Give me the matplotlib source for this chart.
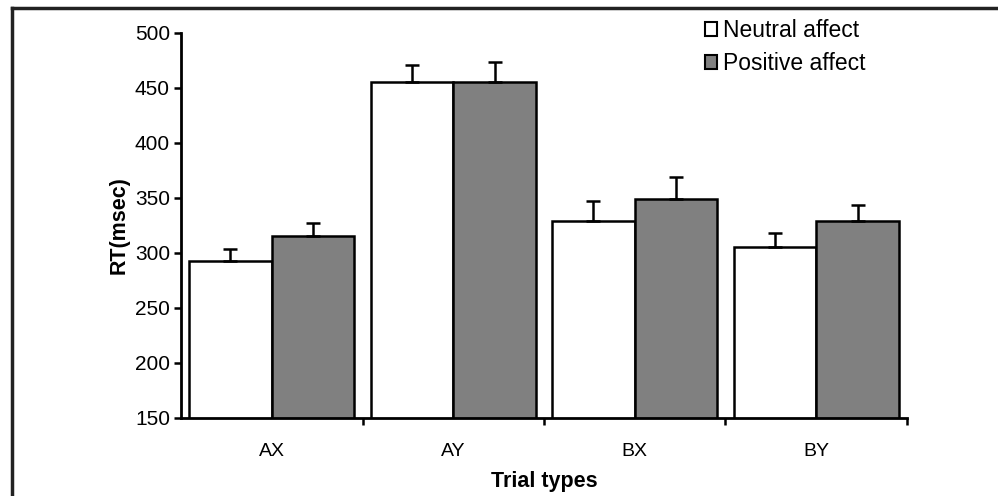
import matplotlib
matplotlib.use('Agg')
import matplotlib.pyplot as plt
from matplotlib.patches import Patch
from matplotlib.lines import Line2D
import numpy as np

plt.rcParams['font.family'] = ['Liberation Sans', 'DejaVu Sans']

trials = ['AX', 'AY', 'BX', 'BY']
neutral = [292, 455, 329, 305]
positive = [315, 455, 349, 329]
neutral_err = [11, 16, 18, 13]
positive_err = [12, 18, 20, 14]

fig = plt.figure(figsize=(9.98, 4.96), dpi=100)
ax = fig.add_axes([0.1814, 0.158, 0.7274, 0.776])

x = np.arange(len(trials))
w = 0.455
ax.bar(x - w/2, neutral, w, color='white', edgecolor='black', linewidth=1.8,
       yerr=[[0]*4, neutral_err], capsize=5,
       error_kw=dict(elinewidth=1.8, capthick=1.8, ecolor='black'), label='Neutral affect')
ax.bar(x + w/2, positive, w, color='#808080', edgecolor='black', linewidth=1.8,
       yerr=[[0]*4, positive_err], capsize=5,
       error_kw=dict(elinewidth=1.8, capthick=1.8, ecolor='black'), label='Positive affect')

ax.set_xlim(-0.5, 3.5)
ax.set_ylim(150, 500)
ax.set_yticks(range(150, 501, 50))
ax.set_xticks(x)
ax.set_xticklabels(trials)
ax.set_xticks(np.arange(0.5, 3.6, 1), minor=True)
ax.tick_params(axis='x', which='major', length=0, labelsize=14, pad=18)
ax.tick_params(axis='x', which='minor', length=5, width=1.8, direction='out')
ax.tick_params(axis='y', length=5, width=1.8, direction='out', labelsize=15, pad=3)

for s in ['top', 'right']:
    ax.spines[s].set_visible(False)
for s in ['left', 'bottom']:
    ax.spines[s].set_linewidth(2)

ax.set_ylabel('RT(msec)', fontsize=15.5, fontweight='bold', labelpad=4)
ax.set_xlabel('Trial types', fontsize=15.5, fontweight='bold', labelpad=8)

handles = [Patch(facecolor='white', edgecolor='black', linewidth=1.5),
           Patch(facecolor='#808080', edgecolor='black', linewidth=1.5)]
ax.legend(handles, ['Neutral affect', 'Positive affect'], loc='upper left',
          bbox_to_anchor=(0.693, 1.09), frameon=False, fontsize=16.5,
          handlelength=0.55, handleheight=0.55, handletextpad=0.25, labelspacing=0.45)

fig.add_artist(Line2D([0.012, 1.0], [0.984, 0.984], color='#222222', linewidth=2.5))
fig.add_artist(Line2D([0.012, 0.012], [0.0, 0.984], color='#222222', linewidth=2.5))

fig.savefig('out.png', dpi=100)
